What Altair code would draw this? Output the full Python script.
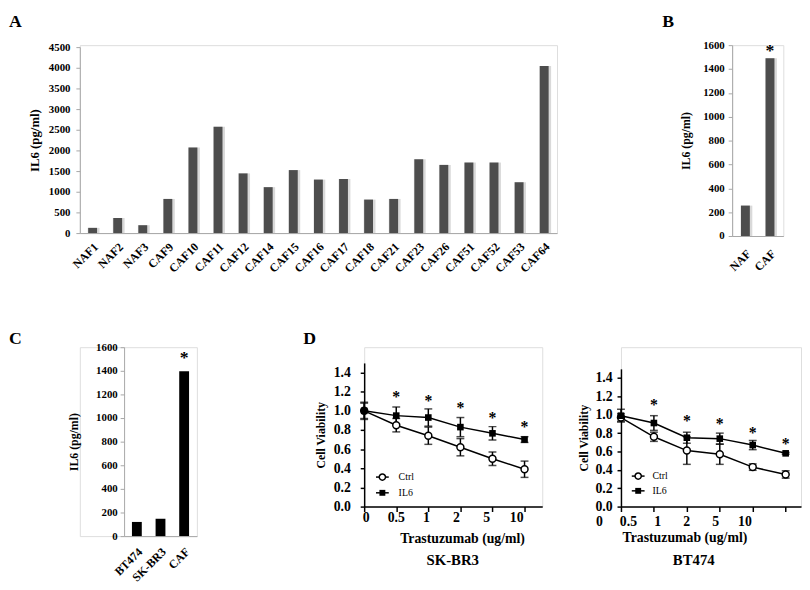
import altair as alt
import pandas as pd

FONT = "Liberation Serif"

# ---------------- data ----------------
a_cells = ["NAF1", "NAF2", "NAF3", "CAF9", "CAF10", "CAF11", "CAF12", "CAF14", "CAF15",
           "CAF16", "CAF17", "CAF18", "CAF21", "CAF23", "CAF26", "CAF51", "CAF52", "CAF53", "CAF64"]
a_il6 = [126, 365, 190, 826, 2071, 2571, 1444, 1111, 1524, 1294, 1309, 810, 826, 1786,
         1650, 1707, 1707, 1230, 4040]

b_groups = ["NAF", "CAF"]
b_il6 = [255, 1490]
b_star = [None, 1580]

c_cells = ["BT474", "SK-BR3", "CAF"]
c_il6 = [120, 147, 1397]
c_star = [None, None, 1545]

doses = ["0", "0.5", "1", "2", "5", "10"]
sk_ctrl = [1.00, 0.85, 0.74, 0.62, 0.50, 0.39]
sk_ctrl_err = [0.08, 0.07, 0.09, 0.09, 0.07, 0.085]
sk_il6 = [1.00, 0.95, 0.93, 0.83, 0.765, 0.70]
sk_il6_err = [0.09, 0.09, 0.09, 0.10, 0.07, 0.03]
sk_star = [None, 1.175, 1.13, 1.055, 0.95, 0.86]

bt_ctrl = [0.97, 0.76, 0.61, 0.57, 0.43, 0.35]
bt_ctrl_err = [0.04, 0.05, 0.15, 0.11, 0.035, 0.04]
bt_il6 = [0.99, 0.91, 0.75, 0.74, 0.67, 0.58]
bt_il6_err = [0.07, 0.08, 0.06, 0.06, 0.05, 0.01]
bt_star = [None, 1.14, 0.96, 0.93, 0.83, 0.71]


def txt(text, x, y, size, weight="bold", align="left", baseline="alphabetic", opacity=1):
    return alt.Chart(pd.DataFrame({"t": [text]})).mark_text(
        font=FONT, fontWeight=weight, fontSize=size, align=align, baseline=baseline,
        color="black", opacity=opacity
    ).encode(x=alt.value(x), y=alt.value(y), text="t:N")


GRAY = "#a6a6a6"


# ---------------- bar panels ----------------
def bar_panel(cats, vals, stars, width, height, xrange, yrange, ymax, ystep, title, color,
              halo, letters, label_pad, title_pad, title_size, ylabel_pad, pad_outer,
              yoffset=0):
    df = pd.DataFrame({"cat": cats, "v": vals, "star": stars})
    xs = dict(paddingInner=0, paddingOuter=pad_outer)
    if xrange is not None:
        xs["range"] = xrange
    x = alt.X("cat:N", sort=cats, title=None, scale=alt.Scale(**xs),
              axis=alt.Axis(labelAngle=-45, labelFont=FONT, labelFontWeight="bold",
                            labelFontSize=12, labelColor="black", ticks=False,
                            domainColor=GRAY, domainWidth=1, labelPadding=label_pad))
    ys = dict(domain=[0, ymax], nice=False)
    if yrange is not None:
        ys["range"] = yrange
    yscale = alt.Scale(**ys)
    yaxis = alt.Axis(values=list(range(0, ymax + 1, ystep)), format="d", grid=False,
                     labelOverlap=False, offset=yoffset,
                     domainColor=GRAY, tickColor=GRAY, tickSize=4,
                     labelFont=FONT, labelFontWeight="bold", labelFontSize=11,
                     labelColor="black", labelPadding=ylabel_pad,
                     titleFont=FONT, titleFontWeight="bold", titleFontSize=title_size,
                     titleColor="black", titlePadding=title_pad)

    def Y(field):
        return alt.Y(field, title=title, scale=yscale, axis=yaxis)

    layers = []
    if halo:
        layers.append(alt.Chart(df).mark_bar(size=12, color="#d9d9d9", xOffset=1).encode(x=x, y=Y("v:Q")))
    layers.append(alt.Chart(df).mark_bar(size=9 if halo else 10, color=color).encode(x=x, y=Y("v:Q")))
    star = alt.Chart(df).transform_filter("isValid(datum.star)").mark_text(
        text="*", font=FONT, fontWeight="bold", fontSize=18, baseline="middle", dy=4,
        color="black"
    ).encode(x=x, y=Y("star:Q"))
    layers.append(star)
    for (letter, lx, ly) in letters:
        layers.append(txt(letter, lx, ly, 18, baseline="top"))
    return alt.layer(*layers).properties(width=width, height=height)


panelA = bar_panel(a_cells, a_il6, [None] * len(a_cells), 485, 191, None, [191, 2], 4500, 500,
                   "IL6  (pg/ml)", "#4d4d4d", True, [("A", -72, -32), ("B", 592, -32)],
                   8, 7, 13, 6, 0.01)
panelB = bar_panel(b_groups, b_il6, b_star, 52, 194, None, None, 1600, 200,
                   "IL6 (pg/ml)", "#4d4d4d", True, [], 12, 10, 12, 4, 0.04)
panelC = bar_panel(c_cells, c_il6, c_star, 119, 192, [45, 119], None, 1600, 200,
                   "IL6 (pg/ml)", "black", False, [("C", -72, -17)], 10, 15, 12, 3, 0.04,
                   yoffset=-45)


# ---------------- viability panels ----------------
def d_panel(ctrl, ctrl_err, il6, il6_err, stars, width, height, ytop, xmax, label_range,
            label_y, ylabel_pad, ytitle_pad, title_pos, name, name_pos, legend_pos, extra):
    rows = []
    for i in range(6):
        rows.append({"idx": i, "series": "Ctrl", "v": ctrl[i],
                     "lo": ctrl[i] - ctrl_err[i], "hi": ctrl[i] + ctrl_err[i]})
    for i in range(6):
        rows.append({"idx": i, "series": "IL6", "v": il6[i],
                     "lo": il6[i] - il6_err[i], "hi": il6[i] + il6_err[i]})
    df = pd.DataFrame(rows)
    dstar = pd.DataFrame({"idx": list(range(6)), "star": stars})
    dlab = pd.DataFrame({"idx": list(range(6)), "dose": doses})

    x = alt.X("idx:Q", title=None, scale=alt.Scale(domain=[0, xmax], nice=False, zero=True),
              axis=alt.Axis(values=list(range(6)), labels=False, grid=False,
                            domainColor="black", tickColor="black", domainWidth=1.5,
                            tickWidth=1.5, tickSize=5))
    yscale = alt.Scale(domain=[0, 1.5], nice=False, range=[height, ytop])
    yaxis = alt.Axis(values=[0, 0.2, 0.4, 0.6, 0.8, 1.0, 1.2, 1.4], format=".1f", grid=False,
                     labelOverlap=False,
                     domainColor="black", tickColor="black", domainWidth=1.5, tickWidth=1.5,
                     tickSize=4, labelFont=FONT, labelFontWeight="bold", labelFontSize=14,
                     labelColor="black", labelPadding=ylabel_pad,
                     titleFont=FONT, titleFontWeight="bold", titleFontSize=12,
                     titleColor="black", titlePadding=ytitle_pad)

    def Y(field):
        return alt.Y(field, title="Cell Viability", scale=yscale, axis=yaxis)

    base = alt.Chart(df)
    line = base.mark_line(color="black", strokeWidth=1.5).encode(x=x, y=Y("v:Q"), detail="series:N")
    err = base.mark_rule(color="black", strokeWidth=1.5).encode(x=x, y=Y("lo:Q"), y2="hi:Q")
    cap_lo = base.mark_tick(orient="horizontal", size=8, thickness=1.5, color="black").encode(x=x, y=Y("lo:Q"))
    cap_hi = base.mark_tick(orient="horizontal", size=8, thickness=1.5, color="black").encode(x=x, y=Y("hi:Q"))
    pc = base.transform_filter("datum.series == 'Ctrl'").mark_point(
        shape="circle", filled=True, fill="white", stroke="black", strokeWidth=1.5, size=50,
        opacity=1).encode(x=x, y=Y("v:Q"))
    pi = base.transform_filter("datum.series == 'IL6'").mark_point(
        shape="square", filled=True, color="black", size=45, opacity=1).encode(x=x, y=Y("v:Q"))
    st = alt.Chart(dstar).transform_filter("isValid(datum.star)").mark_text(
        text="*", font=FONT, fontWeight="bold", fontSize=16, baseline="middle", dy=3,
        color="black").encode(x=x, y=Y("star:Q"))

    (lx0, lx1, ly0, ly1, ltx) = legend_pos
    leg = []
    for yy, nm in ((ly0, "Ctrl"), (ly1, "IL6")):
        d1 = pd.DataFrame({"s": [nm]})
        leg.append(alt.Chart(d1).mark_rule(color="black", strokeWidth=1.5).encode(
            x=alt.value(lx0), x2=alt.value(lx1), y=alt.value(yy)))
        if nm == "Ctrl":
            leg.append(alt.Chart(d1).mark_point(shape="circle", filled=True, fill="white",
                                                stroke="black", strokeWidth=1.5, size=40,
                                                opacity=1).encode(
                x=alt.value((lx0 + lx1) / 2), y=alt.value(yy)))
        else:
            leg.append(alt.Chart(d1).mark_point(shape="square", filled=True, color="black",
                                                size=36, opacity=1).encode(
                x=alt.value((lx0 + lx1) / 2), y=alt.value(yy)))
        leg.append(txt(nm, ltx, yy, 10, weight="normal", baseline="middle"))

    inner = alt.layer(line, err, cap_lo, cap_hi, pc, pi, st, *leg,
                      txt("Trastuzumab (ug/ml)", title_pos[0], title_pos[1], 14, align="center"),
                      txt(name, name_pos[0], name_pos[1], 15, align="center"),
                      *extra)
    labels = alt.Chart(dlab).mark_text(font=FONT, fontWeight="bold", fontSize=14,
                                       baseline="alphabetic", color="black").encode(
        x=alt.X("idx:Q", scale=alt.Scale(domain=[0, 5], range=label_range), axis=None),
        y=alt.value(label_y), text="dose:N")
    return alt.layer(inner, labels).resolve_scale(x="independent").properties(
        width=width, height=height)


panelDL = d_panel(sk_ctrl, sk_ctrl_err, sk_il6, sk_il6_err, sk_star, 181, 162, 16,
                  5 * 181 / 163, [2, 155], 178, 10, 6, (100, 198.5), "SK-BR3", (90, 221),
                  (12, 25, 132, 148, 35), [txt("D", -62, -17, 18, baseline="top")])
panelDR = d_panel(bt_ctrl, bt_ctrl_err, bt_il6, bt_il6_err, bt_star, 183, 162, 22,
                  5 * 183 / 167.4, [-22, 126], 181.5, 5, 5, (65, 198), "BT474", (74, 221.5),
                  (11, 24, 131, 146, 32), [])

row1 = alt.concat(panelA, panelB, columns=2, align="none", spacing=4)
dgroup = alt.concat(panelDL, panelDR, columns=2, align="none", spacing=34)
row2 = alt.concat(panelC, dgroup, columns=2, align="none", spacing=106)

chart = alt.concat(row1, row2, columns=1, align="none", spacing=55).properties(
    padding=0, background="white"
).configure_view(stroke=None).configure(font=FONT)

chart.save("out.html", embed_options={"renderer": "svg", "actions": False})
